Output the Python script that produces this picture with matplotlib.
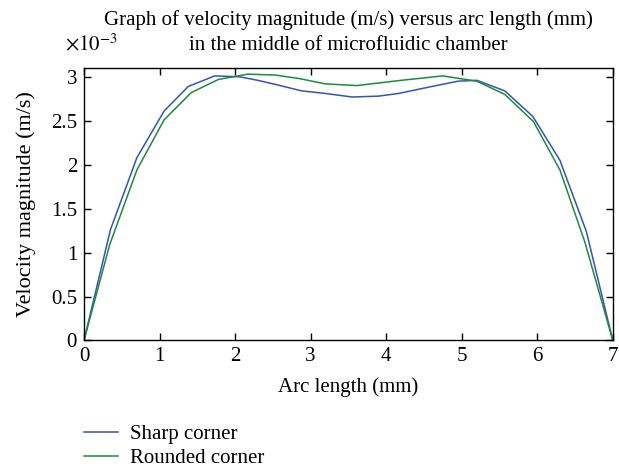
import matplotlib
matplotlib.use("Agg")
import matplotlib.pyplot as plt
from matplotlib.ticker import FuncFormatter

# velocity values in units of 1e-3 m/s
sharp_x = [0, 0.35, 0.70, 1.06, 1.38, 1.73, 2.06, 2.30, 2.55, 2.88, 3.20, 3.55,
           3.90, 4.16, 4.55, 4.95, 5.20, 5.57, 5.94, 6.30, 6.65, 7.0]
sharp_v = [0, 1.26, 2.08, 2.61, 2.89, 3.01, 3.00, 2.96, 2.91, 2.84, 2.81, 2.77,
           2.78, 2.81, 2.88, 2.95, 2.96, 2.84, 2.55, 2.05, 1.24, 0]
rounded_x = [0, 0.34, 0.70, 1.06, 1.42, 1.78, 2.17, 2.53, 2.85, 3.19, 3.61, 4.20,
             4.75, 5.20, 5.57, 5.95, 6.30, 6.63, 7.0]
rounded_v = [0, 1.09, 1.94, 2.51, 2.82, 2.97, 3.03, 3.02, 2.98, 2.92, 2.90, 2.96,
             3.01, 2.95, 2.80, 2.49, 1.94, 1.12, 0]
labels = ["Sharp corner", "Rounded corner"]
colors = ["#3553b3", "#1f8a3e"]

plt.rcParams["font.family"] = "Liberation Serif"
plt.rcParams["mathtext.fontset"] = "stix"
plt.rcParams["font.size"] = 15

fig = plt.figure(figsize=(6.19, 4.69), dpi=100)
ax = fig.add_axes([0.1357, 0.274, 0.8543, 0.581])
ax.plot(sharp_x, sharp_v, color=colors[0], lw=1.1, label=labels[0])
ax.plot(rounded_x, rounded_v, color=colors[1], lw=1.1, label=labels[1])

ax.set_xlim(0, 7)
ax.set_ylim(0, 3.1)
ax.set_xticks(range(0, 8))
ax.set_yticks([0, 0.5, 1, 1.5, 2, 2.5, 3])
ax.yaxis.set_major_formatter(FuncFormatter(lambda v, p: "%g" % v))
ax.tick_params(direction="in", top=True, right=True, length=5, width=1, pad=5)
for s in ax.spines.values():
    s.set_linewidth(1)

ax.set_xlabel("Arc length (mm)", labelpad=8)
ax.set_ylabel("Velocity magnitude (m/s)", labelpad=11, fontsize=16)

fig.text(0.563, 0.957, "Graph of velocity magnitude (m/s) versus arc length (mm)",
         ha="center", va="center")
fig.text(0.563, 0.903, "in the middle of microfluidic chamber", ha="center", va="center")
fig.text(0.105, 0.905, r"$\times10^{-3}$", ha="left", va="center", fontsize=15)

ax.legend(loc="upper left", bbox_to_anchor=(0.135, 0.095), bbox_transform=fig.transFigure,
          frameon=False, handlelength=1.63, handletextpad=0.58, labelspacing=0.22,
          borderpad=0, borderaxespad=0)

fig.savefig("out.png", dpi=100)
